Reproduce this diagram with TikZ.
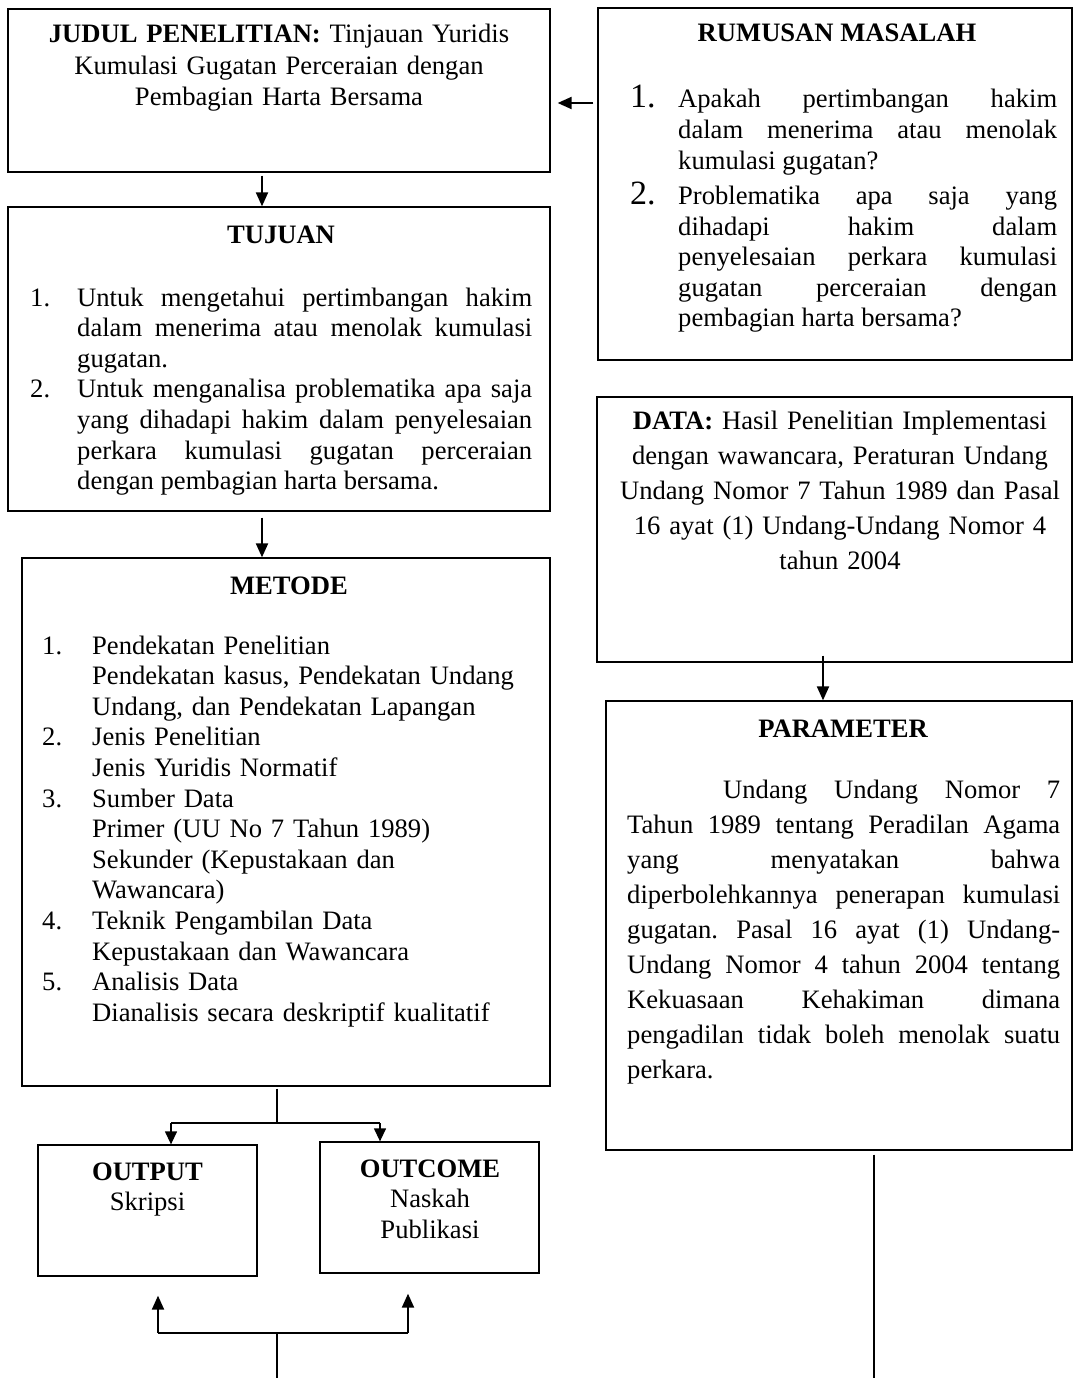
\documentclass[tikz,border=0pt]{standalone}
\usepackage{fontspec}
\setmainfont{Liberation Serif}
\usetikzlibrary{arrows.meta}
\newcommand{\fsn}{\fontsize{26.6pt}{30.6pt}\selectfont}
\newcommand{\fsw}{\fontsize{26.6pt}{35pt}\selectfont}
\newcommand{\fsj}{\fontsize{26.6pt}{31.2pt}\selectfont}
\newcommand{\fsnum}{\fontsize{34pt}{30.6pt}\selectfont}
\newcommand{\jset}{\tolerance=10000 \hyphenpenalty=10000 \frenchspacing \parskip=0pt \parindent=0pt }
\begin{document}
\begin{tikzpicture}[x=1pt,y=-1pt,
  box/.style={draw, line width=1.3pt, inner sep=0pt, rectangle},
  txt/.style={inner sep=0pt, font=\fsn},
  arr/.style={line width=2pt, -{Triangle[length=14pt,width=12pt]}},
  arrthin/.style={line width=1.3pt, -{Triangle[length=13pt,width=12pt]}},
  ln/.style={line width=1.3pt},
  lnthick/.style={line width=2.2pt}]
\useasboundingbox (0,0) rectangle (1073,1378);
\fill[white] (0,0) rectangle (1073,1378);

% boxes
\node[box, minimum width=542pt, minimum height=163pt] (judul) at (279,90.5) {};
\node[box, minimum width=474pt, minimum height=352pt] (rumusan) at (835,184) {};
\node[box, minimum width=542pt, minimum height=304pt] (tujuan) at (279,359) {};
\node[box, minimum width=528pt, minimum height=528pt] (metode) at (286,822) {};
\node[box, minimum width=475pt, minimum height=265pt] (data) at (834.5,529.5) {};
\node[box, minimum width=466pt, minimum height=449pt] (param) at (839,925.5) {};
\node[box, minimum width=219pt, minimum height=131pt] (output) at (147.5,1210.5) {};
\node[box, minimum width=219pt, minimum height=131pt] (outcome) at (429.5,1207.5) {};

% texts
\node[txt, anchor=base, font=\fsj, text width=530pt, align=center] (judulT) at (279,43)
  {\textbf{JUDUL PENELITIAN:} Tinjauan Yuridis\\Kumulasi Gugatan Perceraian dengan\\Pembagian Harta Bersama};

\node[txt, anchor=base, font=\fsn\bfseries] (rumT) at (837,42) {RUMUSAN MASALAH};
\node[txt, anchor=base west, text width=427pt, align=justify] (rumL) at (630,108)
  {\jset\leftskip=48pt
   \noindent\hspace*{-48pt}\makebox[48pt][l]{\fsnum 1.}Apakah pertimbangan hakim\linebreak dalam menerima atau menolak\linebreak kumulasi gugatan?\par\vspace{4.7pt}
   \noindent\hspace*{-48pt}\makebox[48pt][l]{\fsnum 2.}Problematika apa saja yang\linebreak dihadapi hakim dalam\linebreak penyelesaian perkara kumulasi\linebreak gugatan perceraian dengan\linebreak pembagian harta bersama?\par};

\node[txt, anchor=base, font=\fsn\bfseries] (tujT) at (281,243) {TUJUAN};
\node[txt, anchor=base west, text width=502pt, align=justify] (tujL) at (30,306)
  {\jset\leftskip=47pt
   \noindent\hspace*{-47pt}\makebox[47pt][l]{1.}Untuk mengetahui pertimbangan hakim\linebreak dalam menerima atau menolak kumulasi\linebreak gugatan.\par
   \noindent\hspace*{-47pt}\makebox[47pt][l]{2.}Untuk menganalisa problematika apa saja\linebreak yang dihadapi hakim dalam penyelesaian\linebreak perkara kumulasi gugatan perceraian\linebreak dengan pembagian harta bersama.\par};

\node[txt, anchor=base, font=\fsn\bfseries] (metT) at (289,594) {METODE};
\node[txt, anchor=base west, text width=500pt, align=left] (metL) at (42,654)
  {\makebox[50pt][l]{1.}Pendekatan Penelitian\\
   \hspace*{50pt}Pendekatan kasus, Pendekatan Undang\\
   \hspace*{50pt}Undang, dan Pendekatan Lapangan\\
   \makebox[50pt][l]{2.}Jenis Penelitian\\
   \hspace*{50pt}Jenis Yuridis Normatif\\
   \makebox[50pt][l]{3.}Sumber Data\\
   \hspace*{50pt}Primer (UU No 7 Tahun 1989)\\
   \hspace*{50pt}Sekunder (Kepustakaan dan\\
   \hspace*{50pt}Wawancara)\\
   \makebox[50pt][l]{4.}Teknik Pengambilan Data\\
   \hspace*{50pt}Kepustakaan dan Wawancara\\
   \makebox[50pt][l]{5.}Analisis Data\\
   \hspace*{50pt}Dianalisis secara deskriptif kualitatif};

\node[txt, anchor=base, font=\fsw, text width=470pt, align=center] (dataT) at (840,429)
  {\textbf{DATA:} Hasil Penelitian Implementasi\\dengan wawancara, Peraturan Undang\\Undang Nomor 7 Tahun 1989 dan Pasal\\16 ayat (1) Undang-Undang Nomor 4\\tahun 2004};

\node[txt, anchor=base, font=\fsn\bfseries] (parT) at (843,737) {PARAMETER};
\node[txt, anchor=base west, font=\fsw, text width=433pt, align=justify] (parL) at (627,798)
  {\jset\hspace*{96pt}Undang Undang Nomor 7\linebreak Tahun 1989 tentang Peradilan Agama\linebreak yang menyatakan bahwa\linebreak diperbolehkannya penerapan kumulasi\linebreak gugatan. Pasal 16 ayat (1) Undang-\linebreak Undang Nomor 4 tahun 2004 tentang\linebreak Kekuasaan Kehakiman dimana\linebreak pengadilan tidak boleh menolak suatu\linebreak perkara.};

\node[txt, anchor=base, text width=210pt, align=center] (outT) at (147.5,1180)
  {\textbf{OUTPUT}\\Skripsi};
\node[txt, anchor=base, text width=210pt, align=center] (outcT) at (430,1177)
  {\textbf{OUTCOME}\\Naskah\\Publikasi};

% connectors
\draw[arr, shorten <=4pt, shorten >=7pt] (rumusan.west |- 0,103) -- (judul.east |- 0,103);
\draw[arr, shorten <=3pt] (judul.south -| 262,0) -- (tujuan.north -| 262,0);
\draw[arr, shorten <=6pt] (tujuan.south -| 262,0) -- (metode.north -| 262,0);
\draw[arr, shorten <=-7pt] (data.south -| 823,0) -- (param.north -| 823,0);

\coordinate (sM) at (277,1123);
\coordinate (sL) at (171,1123);
\coordinate (sR) at (380,1123);
\draw[ln, shorten <=2pt] (metode.south -| sM) -- (sM);
\draw[ln] (sL) -- (sR);
\draw[arrthin] (sL) -- (sL |- output.north);
\draw[arrthin] (sR) -- (sR |- outcome.north);

\coordinate (bM) at (277,1333);
\coordinate (bL) at (158,1333);
\coordinate (bR) at (408,1333);
\coordinate (bEnd) at (277,1378);
\draw[lnthick] (bL) -- (bR);
\draw[arr, shorten >=19pt] (bL) -- (bL |- output.south);
\draw[arr, shorten >=20pt] (bR) -- (bR |- outcome.south);
\draw[ln] (bM) -- (bEnd);

\coordinate (rEnd) at (874,1378);
\draw[line width=1.8pt, shorten <=4pt] (param.south -| rEnd) -- (rEnd);
\end{tikzpicture}
\end{document}
